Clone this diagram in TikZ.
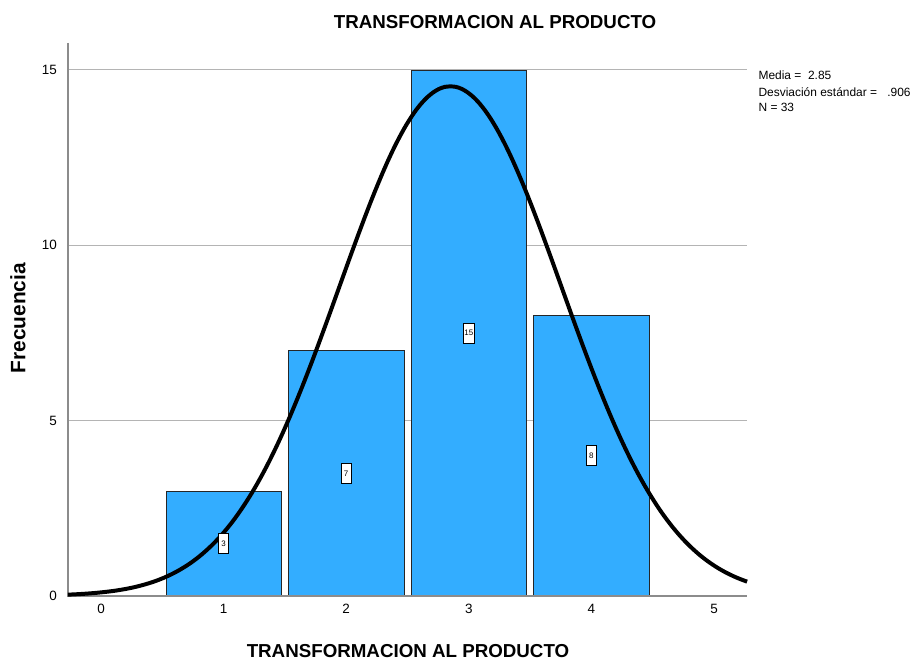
\documentclass[tikz,border=0pt]{standalone}
\usepackage{fontspec}
\setmainfont{Liberation Sans}
\usetikzlibrary{calc}
\definecolor{barfill}{HTML}{33ADFF}
\definecolor{gridgray}{HTML}{B4B4B4}
\definecolor{axisgray}{HTML}{8C8C8C}
\tikzset{
  bar/.style={draw=black!85, fill=barfill, line width=0.5pt},
  gridline/.style={draw=gridgray, line width=0.8pt},
  axisline/.style={draw=axisgray, line width=1.2pt},
  curve/.style={draw=black, line width=3.4pt},
  lab/.style={font=\fontsize{11.5}{13}\selectfont},
  info/.style={font=\fontsize{10.2}{12}\selectfont, anchor=west},
  heading/.style={font=\fontsize{16}{19}\bfseries},
  countbox/.style={draw=black, fill=white, line width=0.8pt, inner sep=1pt,
    minimum width=0.3cm, minimum height=0.6cm, font=\fontsize{6.8}{8}\selectfont},
}

\begin{document}
\begin{tikzpicture}[x=3.678cm, y=1.0521cm]
  \useasboundingbox (-0.8238,-1.8534) rectangle (6.6395,16.995);
  \coordinate (O) at (-0.27,0);
  \coordinate (E) at (5.27,0);
  \coordinate (T) at (-0.27,15.77);
  \foreach \v in {5,10,15}
    \draw[gridline] (-0.27,\v) -- (5.27,\v);
  \foreach \x/\n in {1/3,2/7,3/15,4/8}
    \draw[bar] (\x-0.47,0) rectangle (\x+0.47,\n);
  \draw[axisline] (T) -- (O) -- (E);
  \draw[curve,domain=-0.27:5.27,samples=120,smooth]
    plot (\x,{33/(0.906*sqrt(2*pi))*exp(-((\x-2.85)^2)/(2*0.906^2))});
  \foreach \x/\n in {1/3,2/7,3/15,4/8}
    \node[countbox] (c\x) at (\x,\n/2) {\n};
  \foreach \v in {0,5,10,15}
    \node[lab,anchor=east] (y\v) at (-0.326,\v) {\v};
  \foreach \v in {0,...,5}
    \node[lab] (x\v) at (\v,-0.37) {\v};
  \node[heading] (title) at (3.214,16.37) {TRANSFORMACION AL PRODUCTO};
  \node[heading] (xlab) at (2.504,-1.568) {TRANSFORMACION AL PRODUCTO};
  \node[heading,font=\fontsize{17.8}{20}\bfseries,rotate=90] (ylab) at (-0.677,7.92) {Frecuencia};
  \node[info] (media) at (5.33,14.856) {Media =\ \ 2.85};
  \node[info] (desv) at (5.33,14.37) {Desviación estándar =};
  \node[info] (sd) at (6.38,14.37) {.906};
  \node[info] (n) at (5.33,13.94) {N = 33};
\end{tikzpicture}
\end{document}
